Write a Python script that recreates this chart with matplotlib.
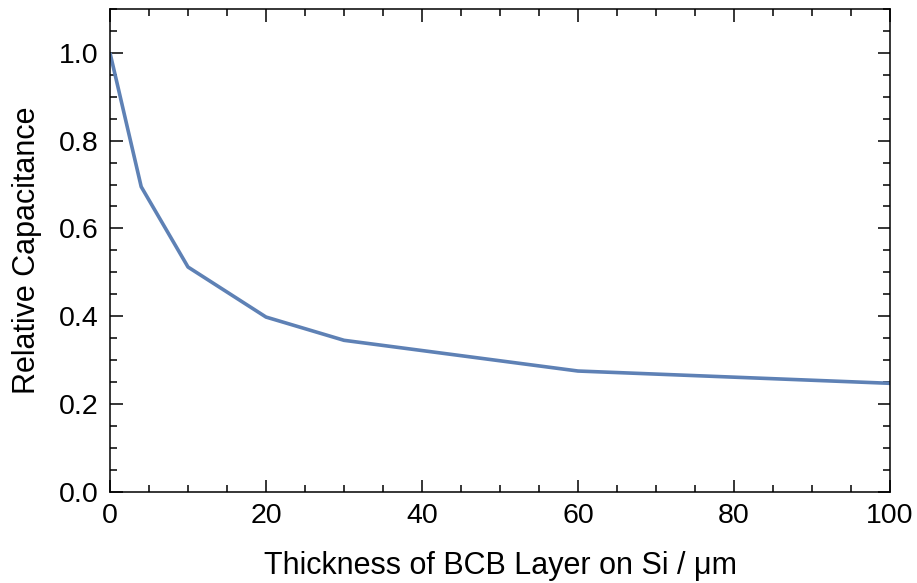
import matplotlib
matplotlib.use("Agg")
import matplotlib.pyplot as plt
from matplotlib.ticker import MultipleLocator

thickness = [0, 4, 10, 20, 30, 60, 100]
rel_cap = [1.0, 0.695, 0.512, 0.398, 0.345, 0.275, 0.247]

plt.rcParams['font.family'] = ['Liberation Sans', 'DejaVu Sans']

fig = plt.figure(figsize=(9.17, 5.83), dpi=100)
ax = fig.add_axes([110/917, 1-491.7/583, 780/917, 482.7/583])
ax.plot(thickness, rel_cap, color='#5E81B5', lw=2.6, solid_capstyle='butt')
ax.set_xlim(0, 100)
ax.set_ylim(0, 1.1)
ax.xaxis.set_major_locator(MultipleLocator(20))
ax.xaxis.set_minor_locator(MultipleLocator(5))
ax.yaxis.set_major_locator(MultipleLocator(0.2))
ax.yaxis.set_minor_locator(MultipleLocator(0.05))
ax.yaxis.set_major_formatter(matplotlib.ticker.FormatStrFormatter('%.1f'))
ax.tick_params(which='both', direction='in', top=True, right=True, width=1.1, labelsize=20.5, pad=8)
ax.tick_params(which='major', length=9)
ax.tick_params(which='minor', length=5)
for s in ax.spines.values():
    s.set_linewidth(1.1)
ax.set_xlabel('Thickness of BCB Layer on Si / μm', fontsize=22, labelpad=16)
ax.set_ylabel('Relative Capacitance', fontsize=22, labelpad=12)
fig.savefig('out.png', dpi=100)
